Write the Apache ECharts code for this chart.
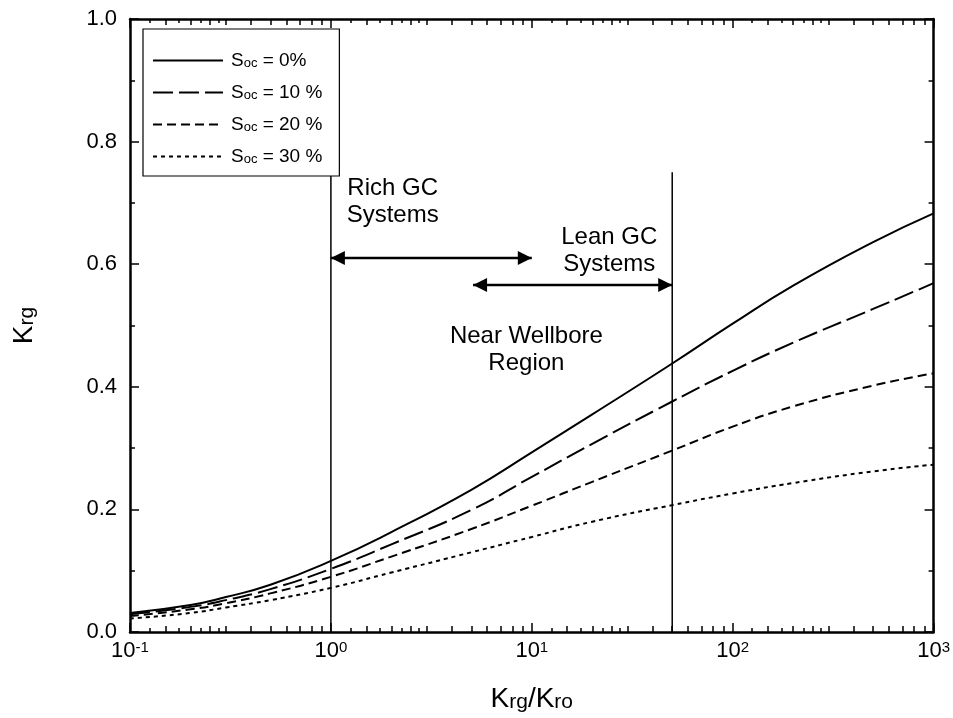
<!DOCTYPE html>
<html>
<head>
<meta charset="utf-8">
<script src="https://cdn.jsdelivr.net/npm/echarts@6/dist/echarts.min.js"></script>
<style>
  html, body { margin: 0; padding: 0; background: #fff; }
  #chart { width: 953px; height: 718px; }
</style>
</head>
<body>
<div id="chart"></div>
<script>
// Krg/Kro ratio (x) and gas relative permeability Krg for each critical condensate saturation
const krgKro = [0.1, 0.2, 0.3, 0.5, 1, 2, 5, 10, 20, 50, 100, 200, 500, 1000];
const krgSoc0  = [0.031, 0.044, 0.057, 0.077, 0.116, 0.163, 0.232, 0.293, 0.355, 0.438, 0.503, 0.565, 0.636, 0.683];
const krgSoc10 = [0.029, 0.041, 0.052, 0.070, 0.103, 0.143, 0.199, 0.253, 0.307, 0.376, 0.426, 0.472, 0.527, 0.569];
const krgSoc20 = [0.026, 0.037, 0.047, 0.063, 0.090, 0.123, 0.168, 0.206, 0.245, 0.296, 0.335, 0.368, 0.402, 0.422];
const krgSoc30 = [0.022, 0.031, 0.040, 0.052, 0.072, 0.097, 0.130, 0.155, 0.180, 0.207, 0.226, 0.243, 0.262, 0.273];

// legend labels (saturation part after "Soc = ")
const socLabels = ['0%', '10 %', '20 %', '30 %'];

// region boundaries and annotation arrows
const boundaryRich = 1;
const boundaryLean = 50;
const boundaryTop = 0.75;
const richArrow = { from: 1, to: 10, level: 0.61 };
const leanArrow = { from: 5.1, to: 50, level: 0.566 };

// annotation texts and their anchor points [Krg/Kro, Krg]
const notes = [
  { text: 'Rich GC\nSystems', at: [2.03, 0.701] },
  { text: 'Lean GC\nSystems', at: [24.3, 0.621] },
  { text: 'Near Wellbore\nRegion', at: [9.4, 0.46] }
];

// axis ticks
const xMajorTicks = [0.1, 1, 10, 100, 1000];
const decades = [0.1, 1, 10, 100];
const midMantissas = [1.5, 2, 2.5, 3, 4, 5, 6, 7, 8, 9];
const shortMantissas = [1.25, 1.75, 2.25, 2.75];
const yTickInterval = 0.2;

const FONT = '"Liberation Sans", Arial, Helvetica, sans-serif';

function ticksFrom(mantissas) {
  const out = [];
  decades.forEach(d => mantissas.forEach(m => out.push(+(d * m).toPrecision(6))));
  return out;
}
const xMidTicks = ticksFrom(midMantissas);
const xShortTicks = ticksFrom(shortMantissas);

const pairs = ys => krgKro.map((x, i) => [x, ys[i]]);
const seriesNames = socLabels.map(s => 'Soc = ' + s);
const curveData = [krgSoc0, krgSoc10, krgSoc20, krgSoc30];
const dashTypes = ['solid', [20, 6], [9, 5], [4, 4]];

const axisColor = '#000';

function logX(position, extra) {
  return Object.assign({
    type: 'log',
    logBase: 10,
    min: 0.1,
    max: 1000,
    position: position,
    splitLine: { show: false },
    axisLine: { show: false, onZero: false },
    axisLabel: { show: false },
    axisTick: { show: false }
  }, extra);
}

function tickSet(len, values) {
  const t = { show: true, inside: true, length: len, lineStyle: { color: axisColor, width: 1.5 } };
  if (values) t.customValues = values;
  return t;
}

const nameStyle = {
  rich: {
    s: { fontSize: 21, lineHeight: 16, verticalAlign: 'bottom', fontFamily: FONT, color: '#000' }
  },
  fontSize: 28, lineHeight: 28, verticalAlign: 'bottom', fontFamily: FONT, color: '#000'
};

const xAxes = [
  logX('bottom', {
    axisLine: { show: true, onZero: false, lineStyle: { color: axisColor, width: 2.5 } },
    axisTick: tickSet(9, xMajorTicks),
    axisLabel: {
      show: true,
      margin: 8,
      customValues: xMajorTicks,
      formatter: v => '{b|10}{e|' + Math.round(Math.log10(v)) + '}',
      rich: {
        b: { fontSize: 22, lineHeight: 22, verticalAlign: 'top', fontFamily: FONT, color: '#000' },
        e: { fontSize: 15, lineHeight: 15, verticalAlign: 'top', fontFamily: FONT, color: '#000' }
      }
    },
    name: 'K{s|rg}/K{s|ro}',
    nameLocation: 'middle',
    nameGap: 81,
    nameTextStyle: nameStyle
  }),
  logX('bottom', { axisTick: tickSet(6, xMidTicks) }),
  logX('bottom', { axisTick: tickSet(4, xShortTicks) }),
  logX('top', {
    axisLine: { show: true, onZero: false, lineStyle: { color: axisColor, width: 2.5 } },
    axisTick: tickSet(9, xMajorTicks)
  }),
  logX('top', { axisTick: tickSet(6, xMidTicks) }),
  logX('top', { axisTick: tickSet(4, xShortTicks) })
];

function valueY(position, extra) {
  return Object.assign({
    type: 'value',
    min: 0,
    max: 1,
    interval: yTickInterval,
    position: position,
    splitLine: { show: false },
    axisLine: { show: true, onZero: false, lineStyle: { color: axisColor, width: 2.5 } },
    axisTick: { show: true, inside: true, length: 9, lineStyle: { color: axisColor, width: 1.5 } },
    minorTick: { show: true, splitNumber: 2, length: 5, lineStyle: { color: axisColor, width: 1.5 } },
    axisLabel: { show: false }
  }, extra);
}

const yAxes = [
  valueY('left', {
    axisLabel: {
      show: true,
      margin: 13,
      fontSize: 22,
      fontFamily: FONT,
      color: '#000',
      formatter: v => v.toFixed(1)
    },
    name: 'K{s|rg}',
    nameLocation: 'middle',
    nameRotate: 90,
    nameGap: 92,
    nameTextStyle: nameStyle
  }),
  valueY('right', {})
];

const curveSeries = seriesNames.map((name, i) => ({
  name: name,
  type: 'line',
  xAxisIndex: 0,
  yAxisIndex: 0,
  data: pairs(curveData[i]),
  symbol: 'none',
  smooth: 0.5,
  lineStyle: { color: '#000', width: 2, type: dashTypes[i], cap: 'butt' },
  itemStyle: { color: '#000' },
  z: 3
}));

const boundarySeries = [boundaryRich, boundaryLean].map((bx, i) => ({
  name: 'boundary-' + i,
  type: 'line',
  data: [[bx, 0], [bx, boundaryTop]],
  symbol: 'none',
  lineStyle: { color: '#000', width: 1.5 },
  silent: true,
  z: 2
}));

// double-headed arrows: shaft plus a triangle head at each end, pointing outward
function arrowSeries(a, i) {
  return {
    name: 'arrow-' + i,
    type: 'line',
    silent: true,
    symbol: 'triangle',
    symbolSize: [14, 14],
    showSymbol: true,
    lineStyle: { color: '#000', width: 2.5 },
    itemStyle: { color: '#000', borderWidth: 0, opacity: 1 },
    data: [
      { value: [a.from, a.level], symbolRotate: 90, symbolOffset: [7, 0] },
      { value: [a.to, a.level], symbolRotate: -90, symbolOffset: [-7, 0] }
    ],
    z: 3
  };
}
const arrowSeriesList = [richArrow, leanArrow].map(arrowSeries);

const noteSeries = {
  name: 'notes',
  type: 'scatter',
  symbolSize: 0,
  silent: true,
  itemStyle: { opacity: 1 },
  data: notes.map(n => ({ name: n.text, value: n.at })),
  label: {
    show: true,
    position: 'inside',
    formatter: p => p.name,
    fontSize: 24,
    lineHeight: 27,
    fontFamily: FONT,
    color: '#000',
    opacity: 1,
    align: 'center',
    verticalAlign: 'middle'
  },
  z: 4
};

const chart = echarts.init(document.getElementById('chart'), null, { renderer: 'canvas' });
chart.setOption({
  animation: false,
  backgroundColor: '#fff',
  grid: { left: 130, right: 18, top: 19, bottom: 86, containLabel: false },
  xAxis: xAxes,
  yAxis: yAxes,
  legend: {
    data: seriesNames,
    orient: 'vertical',
    left: 143,
    top: 29,
    padding: [22, 17, 10, 9],
    itemWidth: 70,
    itemHeight: 18,
    itemGap: 13,
    selectedMode: false,
    backgroundColor: '#fff',
    borderColor: '#000',
    borderWidth: 1.2,
    z: 10,
    itemStyle: { opacity: 0, borderWidth: 0 },
    formatter: name => '{S|S}{o|oc}{S|' + name.slice(3) + '}',
    textStyle: {
      padding: [0, 0, 0, 3],
      rich: {
        S: { fontSize: 19, lineHeight: 19, verticalAlign: 'bottom', fontFamily: FONT, color: '#000' },
        o: { fontSize: 13, lineHeight: 15, verticalAlign: 'bottom', fontFamily: FONT, color: '#000' }
      }
    }
  },
  series: curveSeries.concat(boundarySeries, arrowSeriesList, [noteSeries])
});
</script>
</body>
</html>
